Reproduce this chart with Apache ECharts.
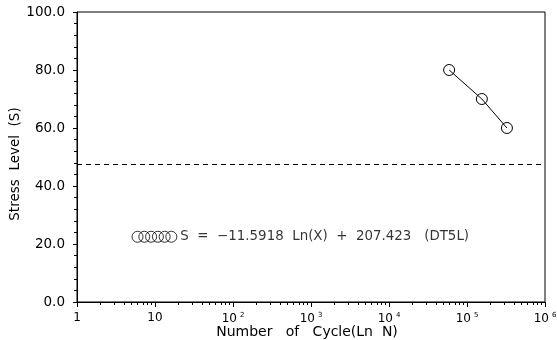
<!DOCTYPE html>
<html><head><meta charset="utf-8">
<script src="https://cdn.jsdelivr.net/npm/echarts@6/dist/echarts.min.js"></script>
<style>html,body{margin:0;padding:0;background:#fff}#c{width:557px;height:340px}</style>
</head><body><div id="c"></div>
<script>
const cycles = [59000, 155000, 325000];
const stress = [80, 70, 60];
const keyX = [5.97, 7.29, 8.91, 10.9, 13.3, 16.2];
const keyY = 22.5;
const equationText = 'S  =  \u221211.5918  Ln(X)  +  207.423   (DT5L)';
const limitStress = 47.6;
const xTicks = [1, 10, 100, 1000, 10000, 100000, 1000000];
const xMinorTicks = [];
for (let d = 1; d < 1000000; d *= 10) for (let k = 2; k <= 9; k++) xMinorTicks.push(d * k);
const supDigits = {100:'2',1000:'3',10000:'4',100000:'5',1000000:'6'};

const font = 'DejaVu Sans';
const chart = echarts.init(document.getElementById('c'));
chart.setOption({
  animation: false,
  backgroundColor: '#fff',
  grid: {left: 77, right: 12, top: 12, bottom: 38, containLabel: false, outerBoundsMode: 'none',
    show: true, borderColor: '#000', borderWidth: 1},
  xAxis: [{
    type: 'log', logBase: 10, min: 1, max: 1000000,
    name: 'Number   of   Cycle(Ln  N)', nameLocation: 'middle', nameGap: 23, nameMoveOverlap: false,
    nameTextStyle: {color: '#000', fontFamily: font, fontSize: 14, padding: [0, 8, 0, 0]},
    axisLine: {lineStyle: {color: '#000', width: 1}},
    axisTick: {length: 5, lineStyle: {color: '#000'}, customValues: xTicks},
    splitLine: {show: false},
    axisLabel: {color: '#000', fontFamily: font, fontSize: 12, margin: 10, customValues: xTicks,
      formatter: v => v <= 10 ? String(Math.round(v)) : '10{s|' + supDigits[Math.round(v)] + '}',
      rich: {s: {fontSize: 7, verticalAlign: 'top', padding: [0, 0, 7, 3], color: '#000', fontFamily: font}}}
  }, {
    type: 'log', logBase: 10, min: 1, max: 1000000, position: 'bottom',
    axisLine: {show: false}, axisLabel: {show: false}, splitLine: {show: false},
    axisTick: {length: 3, lineStyle: {color: '#000'}, customValues: xMinorTicks}
  }],
  yAxis: {
    type: 'value', min: 0, max: 100, interval: 20,
    name: 'Stress  Level  (S)', nameLocation: 'middle', nameGap: 55, nameMoveOverlap: false,
    nameTextStyle: {color: '#000', fontFamily: font, fontSize: 13.5, padding: [0, 14, 0, 0]},
    axisLine: {show: true, lineStyle: {color: '#000'}},
    axisTick: {length: 4, lineStyle: {color: '#000'}},
    minorTick: {show: true, splitNumber: 5, length: 3, lineStyle: {color: '#000'}},
    splitLine: {show: false},
    axisLabel: {color: '#000', fontFamily: font, fontSize: 13.5, margin: 12, formatter: v => v.toFixed(1)}
  },
  series: [{
    type: 'line', data: cycles.map((c, i) => [c, stress[i]]),
    symbol: 'circle', symbolSize: 11,
    lineStyle: {color: '#000', width: 1},
    itemStyle: {color: 'rgba(255,255,255,0)', borderColor: '#000', borderWidth: 1},
    markLine: {silent: true, symbol: 'none', label: {show: false},
      lineStyle: {color: '#000', type: [5, 4], width: 1},
      data: [{yAxis: limitStress}]}
  }, {
    type: 'scatter', data: keyX.map(x => [x, keyY]),
    symbol: 'circle', symbolSize: 11,
    itemStyle: {color: 'rgba(255,255,255,0)', borderColor: '#000', borderWidth: 1},
    label: {show: true, position: 'right', distance: 3, color: '#000', fontFamily: font, fontSize: 13.4,
      formatter: p => p.dataIndex === keyX.length - 1 ? equationText : ''}
  }]
});
</script></body></html>
